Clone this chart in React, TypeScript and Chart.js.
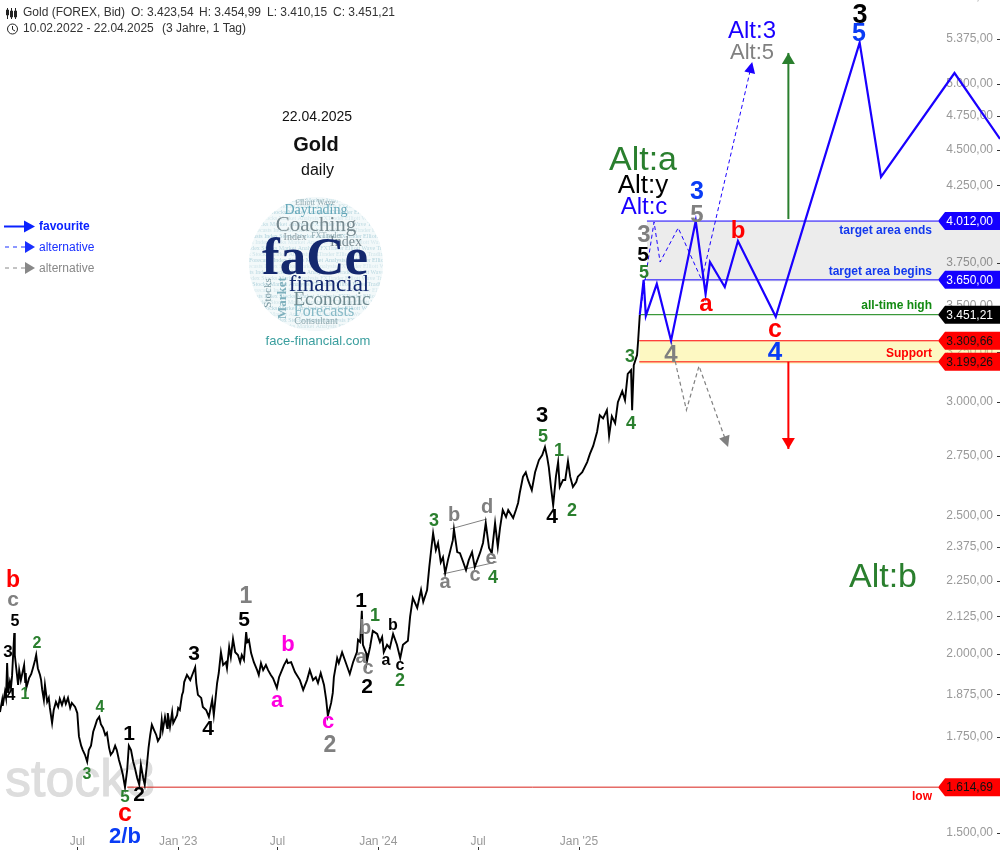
import React, { useEffect, useRef } from "react";
import { Chart, registerables } from "chart.js";

Chart.register(...registerables);

// ---- axis values -----------------------------------------------------------
// x unit: calendar days counted from 1 Jul 2022
const dayMin = -141;
const dayMax = 1683;
const xTickDays = [0, 184, 365, 549, 731, 915];
const xTickNames = ["Jul", "Jan '23", "Jul", "Jan '24", "Jul", "Jan '25"];
const yTickValues = [1500, 1750, 1875, 2000, 2125, 2250, 2375, 2500, 2750, 3000, 3250, 3500, 3750, 4250, 4500, 4750, 5000, 5375, 5750];
const yMin = 1500;
const yMax = 5724;

// ---- price history, turning points -----------------------------------------
const priceDays = [
  -141,-137,-136,-132,-130,-128,-126,-123,-121,-119,-115,-114,-108,-106,-103,-97,-95,-94,-93,-88,-84,-81,-77,-75,-72,-68,-66,-64,-61,-59,-55,-52,-50,-46,-43,-39,-35,-32,-28,-24,-21,-17,-13,-10,-4,0,3,7,10,14,18,21,25,29,32,36,40,43,47,51,54,58,61,65,69,72,76,80,83,87,91,94,98,102,105,109,113,116,120,123,127,130,133,136,140,144,147,
  151,154,156,160,164,165,169,173,175,182,184,187,191,193,195,200,206,211,215,217,220,226,229,235,240,246,249,255,258,262,266,271,273,277,280,284,288,293,297,300,304,308,310,313,317,322,328,331,335,339,344,348,353,357,364,368,377,382,384,390,397,406,412,419,424,430,435,439,444,450,454,457,463,466,468,474,477,
  483,488,497,503,510,512,516,519,521,527,528,534,539,547,552,556,559,565,570,576,583,589,594,603,607,612,620,627,631,638,642,645,649,654,658,663,667,671,676,685,687,693,698,704,709,714,720,725,735,740,745,751,756,762,767,
  771,776,782,786,795,800,804,807,813,818,822,829,835,842,848,853,857,860,864,868,873,877,880,886,890,895,899,904,910,913,921,930,935,941,948,953,959,966,970,975,981,986,994,999,1004,1010,1012,1015,1021,1023,1026,
];
const priceValues = [
  1822,1858,1840,1882,1864,1971,1879,1912,1894,1931,2069,1997,1903,1949,1918,1965,1912,1940,1894,1924,1937,1955,1981,1997,1955,1934,1918,1888,1858,1903,1852,1864,1834,1790,1828,1852,1837,1861,1843,1864,1846,1864,1834,1849,1837,1819,1752,1726,1714,1701,1682,1714,1726,1765,1779,1799,1808,1787,1776,1756,1762,1720,1701,1709,1726,1714,1687,1666,1648,1615,1660,1726,1714,1682,1666,1640,1621,1674,1640,1621,1674,1721,1756,1785,1770,1756,1739,
  1750,1799,1770,1808,1776,1819,1779,1822,1790,1813,1834,1828,1873,1882,1912,1934,1918,1940,1958,1909,1873,1864,1837,1828,1808,1858,1813,1909,1940,2006,1965,1974,1955,2023,1990,2049,2006,1997,1974,1997,1981,2072,2039,2046,2003,1974,1949,1934,1971,1949,1965,1949,1934,1924,1894,1927,1965,1981,1971,1974,1943,1918,1888,1918,1949,1918,1927,1909,1940,1903,1858,1811,1849,1879,1927,1987,1971,
  2006,1981,1937,1974,2006,2046,2039,2144,2030,2003,1974,2023,2076,2066,2039,2056,2006,2030,2019,2066,2030,1987,2030,2043,2123,2189,2154,2217,2175,2217,2300,2356,2429,2364,2391,2318,2337,2278,2326,2402,2445,2356,2352,2318,2289,2326,2356,2300,2356,2391,2469,2372,2352,2469,2376,
  2449,2521,2493,2521,2489,2521,2550,2591,2660,2679,2646,2603,2679,2732,2754,2790,2745,2701,2616,2541,2660,2723,2616,2646,2646,2727,2660,2616,2637,2660,2679,2723,2759,2795,2858,2936,2921,2960,2840,2931,2899,2998,3052,3008,3138,3157,2960,3182,3234,3312,3451,
];

// ---- forecast paths ---------------------------------------------------------
const favouriteDays = [1026,1033,1037,1057,1083,1128,1146,1154,1181,1205,1274,1427,1466,1600,1683];
const favouriteValues = [3451,3650,3445,3626,3310,4012,3568,3756,3608,3885,3440,5345,4307,5090,4578];
const altBlueDays = [1026,1052,1063,1096,1139,1231];
const altBlueValues = [3451,4006,3756,3968,3649,5181];
const altGrayDays = [1083,1094,1111,1134,1187];
const altGrayValues = [3310,3158,2961,3178,2790];
const upArrowDays = [1297,1297];
const upArrowValues = [4025,5257];
const downArrowDays = [1297,1297];
const downArrowValues = [3199.26,2781];
const triangleUpperDays = [680,747];
const triangleUpperValues = [2445,2485];
const triangleLowerDays = [667,765];
const triangleLowerValues = [2275,2319];

// ---- levels -----------------------------------------------------------------
const targetEnds = 4012;
const targetBegins = 3650;
const allTimeHigh = 3451.21;
const supportHigh = 3309.66;
const supportLow = 3199.26;
const lowLevel = 1614.69;
const targetBandLower = 3640;
const supportBandLower = 3190;

const tagValues = [targetEnds, targetBegins, allTimeHigh, supportHigh, supportLow, lowLevel];
const tagKinds = ["blue", "blue", "black", "red", "red", "red"];

// ---- text ---------------------------------------------------------------------
const GREEN = "#2a7f2e";
const GRAY = "#808080";
const BLACK = "#000000";
const RED = "#ff0000";
const PINK = "#ff00e0";
const BLUE = "#0a3cf5";
const NAVY = "#1a00ff";

type Lab = [string, number, number, number, string, boolean?];
const waveLabels: Lab[] = [
  ["3",860,14,27,BLACK],["5",859,33,25,BLUE],
  ["3",697,191,25,BLUE],["5",697,214,24,GRAY],["3",644,234,24,GRAY],["5",643,254,21,BLACK],["5",644,272,18,GREEN],
  ["b",738,230,24,RED],["a",706,303,24,RED],["c",775,329,25,RED],["4",775,352,26,BLUE],["4",671,354,24,GRAY],
  ["3",630,356,18,GREEN],["4",631,423,18,GREEN],
  ["3",542,415,22,BLACK],["5",543,436,18,GREEN],["1",559,450,18,GREEN],["4",552,516,21,BLACK],["2",572,510,18,GREEN],
  ["3",434,520,18,GREEN],["b",454,515,20,GRAY],["d",487,507,20,GRAY],["e",491,558,20,GRAY],["a",445,582,20,GRAY],["c",475,575,20,GRAY],["4",493,577,18,GREEN],
  ["1",361,600,21,BLACK],["1",375,615,18,GREEN],["b",365,628,20,GRAY],["b",393,625,16,BLACK],["a",361,657,20,GRAY],["c",368,668,20,GRAY],
  ["a",386,660,16,BLACK],["c",400,665,16,BLACK],["2",367,686,21,BLACK],["2",400,680,18,GREEN],
  ["b",13,580,23,RED],["c",13,599,21,GRAY],["5",15,621,16,BLACK],["3",8,652,17,BLACK],["4",11,695,16,BLACK],["1",25,694,16,GREEN],["2",37,643,16,GREEN],
  ["4",100,707,16,GREEN],["3",87,774,16,GREEN],["1",129,733,21,BLACK],["5",125,797,17,GREEN],["2",139,794,21,BLACK],["c",125,813,25,RED],["2/b",125,836,22,BLUE],
  ["3",194,653,21,BLACK],["4",208,728,21,BLACK],["1",246,596,23,GRAY],["5",244,619,21,BLACK],
  ["b",288,644,22,PINK],["a",277,700,22,PINK],["c",328,721,22,PINK],["2",330,745,23,GRAY],
];
const altLabels: Lab[] = [
  ["Alt:3",752,30,24,NAVY],["Alt:5",752,52,22,GRAY],["Alt:a",643,159,34,GREEN],["Alt:y",643,185,26,BLACK],["Alt:c",644,206,24,NAVY],["Alt:b",883,576,34,GREEN],
];
const levelNotes: Lab[] = [
  ["target area ends",932,230,12,"#1238ee"],["target area begins",932,271,12,"#1238ee"],["all-time high",932,305,12,"#128a12"],["Support",932,353,12,RED],["low",932,796,12,RED],
];
const headerTexts: [string, number, number][] = [
  ["Gold (FOREX, Bid)",23,13],["O: 3.423,54",131,13],["H: 3.454,99",199,13],["L: 3.410,15",267,13],["C: 3.451,21",333,13],
  ["10.02.2022 - 22.04.2025",23,29],["(3 Jahre, 1 Tag)",162,29],
];
const logoFine = ["Forecasts Index Stocks Market Analysis FXTrader Elliott Wave Trading Economic Consultant Coaching"];

const SANS = '"Liberation Sans", Arial, sans-serif';
const SERIF = '"Liberation Serif", serif';

function arrowHead(ctx: CanvasRenderingContext2D, tipX: number, tipY: number, angle: number, len: number, half: number, color: string) {
  ctx.save();
  ctx.translate(tipX, tipY);
  ctx.rotate(angle);
  ctx.fillStyle = color;
  ctx.beginPath();
  ctx.moveTo(0, 0);
  ctx.lineTo(-len, -half);
  ctx.lineTo(-len, half);
  ctx.closePath();
  ctx.fill();
  ctx.restore();
}

function put(ctx: CanvasRenderingContext2D, labs: Lab[], weight: string, align: CanvasTextAlign) {
  ctx.textAlign = align;
  ctx.textBaseline = "middle";
  for (const [t, x, y, s, c] of labs) {
    ctx.font = `${weight} ${s}px ${SANS}`;
    ctx.fillStyle = c;
    ctx.fillText(t, x, y + s * 0.04);
  }
}

function drawLogo(ctx: CanvasRenderingContext2D) {
  const cx = 316, cy = 264, r = 67;
  ctx.save();
  ctx.beginPath();
  ctx.arc(cx, cy, r, 0, Math.PI * 2);
  ctx.clip();
  ctx.fillStyle = "#f3f9fa";
  ctx.fillRect(cx - r, cy - r, 2 * r, 2 * r);
  ctx.textAlign = "left";
  ctx.textBaseline = "middle";
  ctx.font = `6px ${SERIF}`;
  const tones = ["#bcd9e1", "#cde3e8", "#b0d2dc", "#d4e7ec"];
  for (let row = 0, y = cy - r + 3; y < cy + r; row++, y += 6) {
    ctx.fillStyle = tones[row % 4];
    ctx.fillText(logoFine[0] + " " + logoFine[0], cx - r - (row % 5) * 9, y);
  }
  const big = (t: string, x: number, y: number, font: string, c: string, rot = 0) => {
    ctx.save();
    ctx.translate(x, y);
    ctx.rotate(rot);
    ctx.textAlign = "center";
    ctx.font = font;
    ctx.fillStyle = c;
    ctx.fillText(t, 0, 0);
    ctx.restore();
  };
  big("Elliott Wave", 315, 203, `8px ${SERIF}`, "#8da6ad");
  big("Daytrading", 316, 210, `14px ${SERIF}`, "#62a6b8");
  big("Coaching", 316, 225, `21px ${SERIF}`, "#77898f");
  big("Index", 346, 242, `14px ${SERIF}`, "#77898f");
  big("Index", 295, 237, `10px ${SERIF}`, "#8a9aa0");
  big("FXTrader", 327, 236, `8px ${SERIF}`, "#8da6ad");
  big("faCe", 315, 260, `bold 53px ${SERIF}`, "#14286e");
  big("financial", 329, 285, `23px ${SERIF}`, "#14286e");
  big("Economic", 332, 300, `19px ${SERIF}`, "#6f8a90");
  big("Forecasts", 324, 312, `16px ${SERIF}`, "#86b9c6");
  big("Consultant", 316, 321, `10px ${SERIF}`, "#8aa6ad");
  big("Market", 283, 298, `bold 13px ${SERIF}`, "#7fb0bd", -Math.PI / 2);
  big("Stocks", 268, 293, `11px ${SERIF}`, "#7b9aa3", -Math.PI / 2);
  ctx.restore();
  ctx.font = `13px ${SANS}`;
  ctx.fillStyle = "#3a9e9e";
  ctx.textAlign = "center";
  ctx.fillText("face-financial.com", 318, 341);
}

const underlay = {
  id: "underlay",
  beforeDatasetsDraw(chart: any) {
    const { ctx } = chart;
    ctx.save();
    ctx.font = `52px ${SANS}`;
    ctx.fillStyle = "#dddddd";
    ctx.strokeStyle = "#dddddd";
    ctx.lineWidth = 1;
    ctx.textAlign = "left";
    ctx.textBaseline = "alphabetic";
    ctx.fillText("stock3", 5, 796);
    ctx.strokeText("stock3", 5, 796);
    ctx.restore();
  },
};

const overlay = {
  id: "overlay",
  afterDatasetsDraw(chart: any) {
    const { ctx, scales } = chart;
    const y = scales.y;
    const x = scales.x;
    ctx.save();

    // arrow heads on paths flagged in their dataset
    chart.data.datasets.forEach((ds: any, i: number) => {
      if (!ds.arrow) return;
      const pts = chart.getDatasetMeta(i).data;
      const a = pts[pts.length - 2];
      const b = pts[pts.length - 1];
      arrowHead(ctx, b.x, b.y, Math.atan2(b.y - a.y, b.x - a.x), ds.arrow[0], ds.arrow[1], ds.borderColor);
    });

    // axis tick marks
    ctx.strokeStyle = "#333";
    ctx.lineWidth = 1;
    ctx.beginPath();
    for (const v of yTickValues) {
      const py = Math.round(y.getPixelForValue(v)) + 0.5;
      ctx.moveTo(997, py);
      ctx.lineTo(1000, py);
    }
    for (const d of xTickDays) {
      const px = Math.round(x.getPixelForValue(d)) + 0.5;
      ctx.moveTo(px, 847);
      ctx.lineTo(px, 850);
    }
    ctx.stroke();

    // price tags at the right edge
    const kinds: any = { blue: ["#1400ff", "#ffffff"], black: ["#000000", "#ffffff"], red: ["#ff0000", "#111111"] };
    tagValues.forEach((v, i) => {
      const py = y.getPixelForValue(v);
      const [bg, fg] = kinds[tagKinds[i]];
      ctx.fillStyle = bg;
      ctx.beginPath();
      ctx.moveTo(938, py);
      ctx.lineTo(945, py - 9);
      ctx.lineTo(1000, py - 9);
      ctx.lineTo(1000, py + 9);
      ctx.lineTo(945, py + 9);
      ctx.closePath();
      ctx.fill();
      ctx.fillStyle = fg;
      ctx.font = `12px ${SANS}`;
      ctx.textAlign = "right";
      ctx.textBaseline = "middle";
      ctx.fillText(v.toLocaleString("de-DE", { minimumFractionDigits: 2, maximumFractionDigits: 2 }), 993, py + 0.5);
    });

    // header
    ctx.fillStyle = "#333333";
    ctx.font = `12px ${SANS}`;
    ctx.textAlign = "left";
    ctx.textBaseline = "middle";
    for (const [t, tx, ty] of headerTexts) ctx.fillText(t, tx, ty);
    ctx.strokeStyle = "#222";
    ctx.lineWidth = 1;
    ctx.beginPath();
    for (const [ix, top, bt, a, b] of [[7, 8, 19, 10, 15], [11, 8, 19, 11, 17], [15, 8, 19, 11, 17]]) {
      ctx.moveTo(ix + 0.5, top);
      ctx.lineTo(ix + 0.5, bt);
      ctx.rect(ix - 0.5, a, 2, b - a);
    }
    ctx.stroke();
    ctx.beginPath();
    ctx.arc(12.5, 29, 5, 0, Math.PI * 2);
    ctx.moveTo(12.5, 26);
    ctx.lineTo(12.5, 29.5);
    ctx.lineTo(15, 31);
    ctx.stroke();

    // title block
    ctx.textAlign = "center";
    ctx.fillStyle = "#111";
    ctx.font = `14px ${SANS}`;
    ctx.fillText("22.04.2025", 317, 117);
    ctx.font = `bold 20px ${SANS}`;
    ctx.fillText("Gold", 316, 145);
    ctx.font = `16px ${SANS}`;
    ctx.fillText("daily", 317.5, 171);
    drawLogo(ctx);

    // legend
    const legendRow = (ly: number, dash: number[], c: string, from: number, label: string, weight: string, head: number) => {
      ctx.strokeStyle = c;
      ctx.lineWidth = dash.length ? 1 : 2;
      ctx.setLineDash(dash);
      ctx.beginPath();
      ctx.moveTo(from, ly);
      ctx.lineTo(30, ly);
      ctx.stroke();
      ctx.setLineDash([]);
      arrowHead(ctx, 35, ly, 0, head, 6, c);
      ctx.fillStyle = c;
      ctx.font = `${weight} 12px ${SANS}`;
      ctx.textAlign = "left";
      ctx.textBaseline = "middle";
      ctx.fillText(label, 39, ly + 0.5);
    };
    legendRow(226.5, [], "#0a22ff", 4, "favourite", "bold", 11);
    legendRow(247, [4, 4], "#1a30ff", 5, "alternative", "normal", 10);
    legendRow(268, [4, 4], "#888888", 5, "alternative", "normal", 10);

    // wave counts
    put(ctx, altLabels, "normal", "center");
    put(ctx, waveLabels, "bold", "center");
    put(ctx, levelNotes, "bold", "right");
    ctx.restore();
  },
};

const path = (xs: number[], ys: number[]) => xs.map((d, i) => ({ x: d, y: ys[i] }));
const level = (from: number, to: number, v: number) => [{ x: from, y: v }, { x: to, y: v }];
const plain = { pointRadius: 0, tension: 0, fill: false };

export default function App() {
  const ref = useRef<HTMLCanvasElement | null>(null);
  useEffect(() => {
    document.body.style.margin = "0";
    const chart = new Chart(ref.current as HTMLCanvasElement, {
      type: "line",
      plugins: [underlay, overlay],
      data: {
        datasets: [
          { ...plain, label: "favourite", data: path(favouriteDays, favouriteValues), borderColor: "#1a00ff", borderWidth: 2.2 },
          { ...plain, label: "Gold", data: path(priceDays, priceValues), borderColor: "#000000", borderWidth: 1.9, borderJoinStyle: "miter" },
          { ...plain, label: "alt blue", data: path(altBlueDays, altBlueValues), borderColor: "#1a00ff", borderWidth: 1, borderDash: [4, 3], arrow: [11, 5.5] },
          { ...plain, label: "alt gray", data: path(altGrayDays, altGrayValues), borderColor: "#808080", borderWidth: 1.2, borderDash: [4, 3], arrow: [11, 5.5] },
          { ...plain, label: "up", data: path(upArrowDays, upArrowValues), borderColor: GREEN, borderWidth: 2, arrow: [11, 6.5] },
          { ...plain, label: "down", data: path(downArrowDays, downArrowValues), borderColor: RED, borderWidth: 2, arrow: [11, 6.5] },
          { ...plain, label: "tri up", data: path(triangleUpperDays, triangleUpperValues), borderColor: "#808080", borderWidth: 1 },
          { ...plain, label: "tri low", data: path(triangleLowerDays, triangleLowerValues), borderColor: "#808080", borderWidth: 1 },
          { ...plain, label: "ends", data: level(1039, 1570, targetEnds), borderColor: "#1400ff", borderWidth: 1 },
          { ...plain, label: "begins", data: level(1034, 1570, targetBegins), borderColor: "#1400ff", borderWidth: 1 },
          { ...plain, label: "ath", data: level(1026, 1570, allTimeHigh), borderColor: "#0d800d", borderWidth: 1 },
          { ...plain, label: "support hi", data: level(1025, 1570, supportHigh), borderColor: RED, borderWidth: 1 },
          { ...plain, label: "support lo", data: level(1025, 1570, supportLow), borderColor: RED, borderWidth: 1 },
          { ...plain, label: "low", data: level(91, 1570, lowLevel), borderColor: "#d8201a", borderWidth: 1 },
          { ...plain, label: "target band", data: level(1039, dayMax, targetEnds), borderWidth: 0, borderColor: "transparent", fill: { value: targetBandLower }, backgroundColor: "rgba(0,0,0,0.075)" },
          { ...plain, label: "support band", data: level(1025, dayMax, supportHigh), borderWidth: 0, borderColor: "transparent", fill: { value: supportBandLower }, backgroundColor: "rgba(250,238,110,0.42)" },
        ] as any,
      },
      options: {
        animation: false,
        responsive: false,
        devicePixelRatio: 1,
        parsing: false,
        layout: { padding: 0 },
        plugins: { legend: { display: false }, tooltip: { enabled: false }, title: { display: false } },
        scales: {
          x: {
            type: "linear",
            min: dayMin,
            max: dayMax,
            grid: { display: false, drawTicks: false },
            border: { display: false },
            afterBuildTicks: (s: any) => { s.ticks = xTickDays.map((v) => ({ value: v })); },
            afterFit: (s: any) => { s.height = 17; s.paddingLeft = 0; s.paddingRight = 0; },
            ticks: {
              autoSkip: false,
              maxRotation: 0,
              padding: 1,
              color: "#999999",
              font: { family: SANS, size: 12 },
              callback: (v: any) => xTickNames[xTickDays.indexOf(Number(v))] ?? "",
            },
          },
          y: {
            type: "logarithmic",
            position: "right",
            min: yMin,
            max: yMax,
            grid: { display: false, drawTicks: false },
            border: { display: false },
            afterBuildTicks: (s: any) => { s.ticks = yTickValues.map((v) => ({ value: v })); },
            afterFit: (s: any) => { s.width = 0; s.paddingTop = 0; s.paddingBottom = 0; },
            ticks: {
              autoSkip: false,
              mirror: true,
              padding: -7,
              color: "#999999",
              font: { family: SANS, size: 12 },
              callback: (v: any) => Number(v).toLocaleString("de-DE", { minimumFractionDigits: 2, maximumFractionDigits: 2 }),
            },
          },
        },
      } as any,
    });
    return () => chart.destroy();
  }, []);
  return <canvas ref={ref} width={1000} height={850} style={{ display: "block", position: "absolute", left: 0, top: 0 }} />;
}
